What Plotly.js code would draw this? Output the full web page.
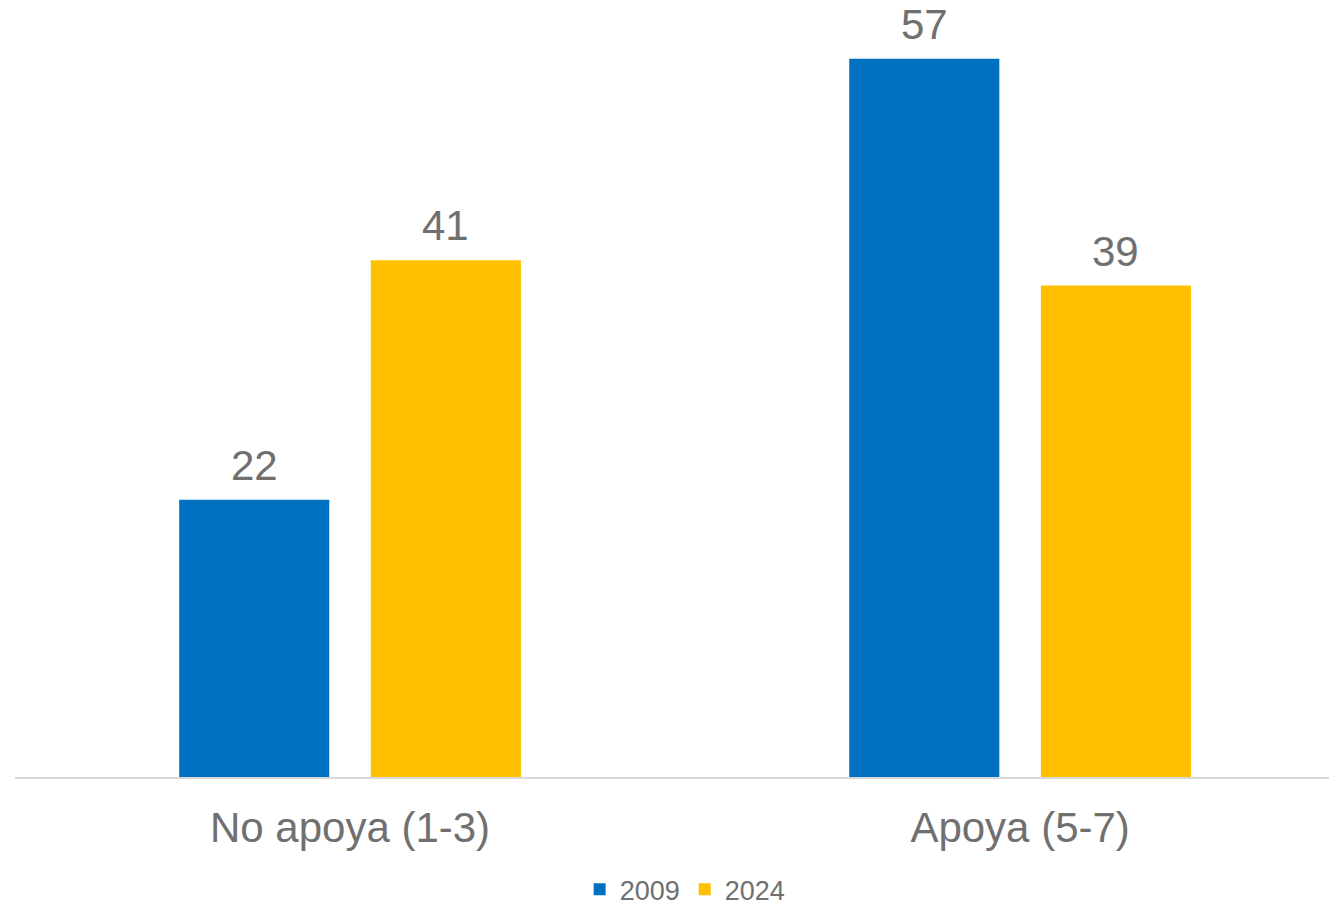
<!DOCTYPE html>
<html>
<head>
<meta charset="utf-8">
<script src="https://cdn.plot.ly/plotly-3.0.1.min.js"></script>
<style>
  html, body { margin: 0; padding: 0; background: #fff; }
  #plotArea { width: 1329px; height: 906px; }
</style>
</head>
<body>
<div id="plotArea"></div>
<script>
var categories = ["No apoya (1-3)", "Apoya (5-7)"];
var years = ["2009", "2024"];
var values2009 = [22, 57];
var values2024 = [41, 39];

var gray = "#707070";
var font = "Liberation Sans, Arial, sans-serif";
var barWidth = 0.224;
var offsets = [-0.255, 0.031];
var pxPerCat = 670;

var trace2009 = {
    x: categories,
    y: values2009,
    name: years[0],
    type: "bar",
    width: barWidth,
    offset: offsets[0],
    marker: {color: "#0070C0"}
};

var trace2024 = {
    x: categories,
    y: values2024,
    name: years[1],
    type: "bar",
    width: barWidth,
    offset: offsets[1],
    marker: {color: "#FFC000"}
};

// value labels above each bar
var annotations = [];
[values2009, values2024].forEach(function(vals, s) {
    vals.forEach(function(v, i) {
        annotations.push({
            x: categories[i],
            y: v,
            xref: "x",
            yref: "y",
            text: String(v),
            showarrow: false,
            xanchor: "center",
            yanchor: "bottom",
            xshift: (offsets[s] + barWidth / 2) * pxPerCat,
            yshift: 9,
            font: {size: 42, color: gray, family: font}
        });
    });
});

var layout = {
    width: 1329,
    height: 906,
    margin: {l: 15, r: 0, t: 10, b: 129},
    paper_bgcolor: "#fff",
    plot_bgcolor: "#fff",
    font: {family: font, color: gray},
    barmode: "group",
    showlegend: true,
    legend: {
        orientation: "h",
        x: 0.510,
        xanchor: "center",
        yref: "container",
        y: 0.018,
        yanchor: "middle",
        font: {size: 27, color: gray, family: font},
        itemwidth: 30
    },
    xaxis: {
        type: "category",
        range: [-0.5, 1.461],
        showline: true,
        linecolor: "#D9D9D9",
        linewidth: 2,
        ticks: "",
        showgrid: false,
        ticklabelstandoff: 13,
        tickfont: {size: 42, color: gray, family: font}
    },
    yaxis: {
        range: [0, 60.87],
        visible: false,
        showgrid: false,
        zeroline: false
    },
    annotations: annotations,
    hovermode: false
};

Plotly.newPlot("plotArea", [trace2009, trace2024], layout, {displayModeBar: false, staticPlot: true});
</script>
</body>
</html>
